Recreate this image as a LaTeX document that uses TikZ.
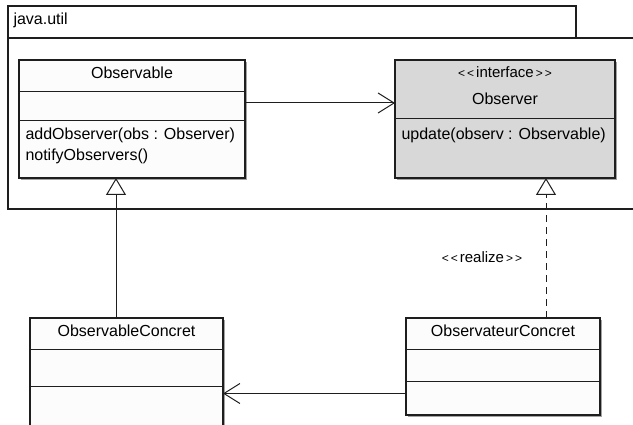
\documentclass[tikz,border=0pt]{standalone}
\usepackage{fontspec}
\setmainfont{Liberation Sans}
\usetikzlibrary{arrows.meta,calc,shadows}
\definecolor{ifill}{RGB}{216,216,216}
\definecolor{cfill}{RGB}{252,252,252}
\definecolor{lcol}{RGB}{30,30,30}
\newcommand{\lguil}{{\fontsize{12}{14}\selectfont<\kern2pt<\kern2pt}}
\newcommand{\rguil}{{\fontsize{12}{14}\selectfont\kern2pt>\kern2pt>}}
\begin{document}
\begin{tikzpicture}[x=1pt,y=-1pt,
  font=\fontsize{16}{19}\selectfont,
  line width=1pt, draw=lcol,
  classbox/.style={draw=lcol, line width=1.2pt, fill=cfill, inner sep=0pt, outer sep=0pt,
    anchor=north west,
    drop shadow={shadow xshift=2pt, shadow yshift=-2pt, fill=black!45, opacity=0.8}},
  sep/.style={draw=lcol, line width=1pt},
  lbl/.style={inner sep=0pt, anchor=base},
  lbll/.style={inner sep=0pt, anchor=base west},
  stereo/.style={inner sep=0pt, anchor=base, font=\fontsize{15}{17}\selectfont},
  assoc/.style={draw=lcol, line width=1pt, -{Straight Barb[length=16pt,width=20pt,line width=1pt]}},
  gen/.style={draw=lcol, line width=1pt, -{Triangle[open,length=17pt,width=20pt,line width=1pt,fill=white]}},
  real/.style={gen, dash pattern=on 7pt off 5pt}
]
\useasboundingbox (0,0) rectangle (633,425);
\clip (0,0) rectangle (633,425);
\fill[white] (0,0) rectangle (633,425);

% package java.util
\draw[line width=1.1pt, fill=white] (8,6) rectangle (576,38);
\draw[line width=1.1pt, fill=white] (640,38) -- (8,38) -- (8,209) -- (640,209);
\node[lbll] (pkgname) at (13,25) {java.util};

% Observable
\node[classbox, minimum width=226pt, minimum height=118pt] (obs) at (19,60) {};
\draw[sep] (obs.west |- 0,92) -- (obs.east |- 0,92);
\draw[sep] (obs.west |- 0,121) -- (obs.east |- 0,121);
\node[lbl] (obsname) at (132,79) {Observable};
\node[lbll] (obsm1) at (25,140) {addObserver(obs : Observer)};
\node[lbll] (obsm2) at (25,161) {notifyObservers()};

% Observer interface
\node[classbox, fill=ifill, minimum width=220pt, minimum height=118pt] (obr) at (395,60) {};
\draw[sep] (obr.west |- 0,119) -- (obr.east |- 0,119);
\node[stereo] (obrst) at (505,78) {\lguil interface\rguil};
\node[lbl] (obrname) at (505,105) {Observer};
\node[lbll] (obrm1) at (401,140) {update(observ : Observable)};

% ObservableConcret
\node[classbox, minimum width=193pt, minimum height=130pt] (oc) at (30,318) {};
\draw[sep] (oc.west |- 0,350) -- (oc.east |- 0,350);
\draw[sep] (oc.west |- 0,386.5) -- (oc.east |- 0,386.5);
\node[lbl] (ocname) at (126.5,337) {ObservableConcret};

% ObservateurConcret
\node[classbox, minimum width=194pt, minimum height=97pt] (ovc) at (406,318) {};
\draw[sep] (ovc.west |- 0,350) -- (ovc.east |- 0,350);
\draw[sep] (ovc.west |- 0,381.5) -- (ovc.east |- 0,381.5);
\node[lbl] (ovcname) at (503,337) {ObservateurConcret};

% connectors
\draw[assoc] (obs.east |- 0,103) -- (obr.west |- 0,103);
\draw[assoc] (ovc.west |- 0,393.5) -- (oc.east |- 0,393.5);
\draw[gen] (oc.north -| 116,0) -- (obs.south -| 116,0);
\draw[real] (ovc.north -| 546,0) -- (obr.south -| 546,0);
\node[stereo] (reallbl) at (482,263) {\lguil realize\rguil};
\end{tikzpicture}
\end{document}
